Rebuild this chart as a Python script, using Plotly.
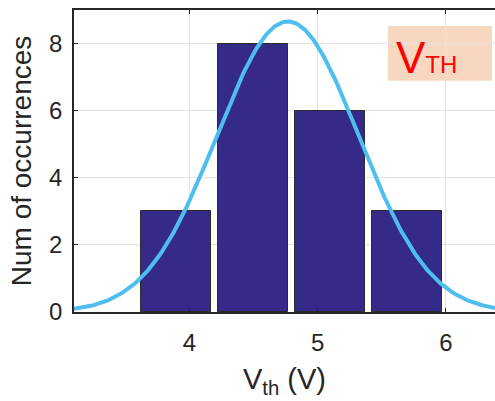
import numpy as np
import plotly.graph_objects as go

# Histogram of threshold voltages
bin_centers = [3.898, 4.498, 5.098, 5.698]
counts = [3, 8, 6, 3]
bar_width = 0.545

# Normal fit parameters for the overlaid density curve
fit_mean = 4.767
fit_sigma = 0.553

x_ticks = [4, 5, 6]
y_ticks = [0, 2, 4, 6, 8]
x_range = [3.101, 6.382]
y_range = [0, 9]

bin_step = bin_centers[1] - bin_centers[0]
n_total = sum(counts)
xs = np.linspace(x_range[0], x_range[1], 300)
ys = n_total * bin_step / (fit_sigma * np.sqrt(2 * np.pi)) * np.exp(-0.5 * ((xs - fit_mean) / fit_sigma) ** 2)

FONT = "Liberation Sans, Arial, sans-serif"
INK = "#262626"

fig = go.Figure()
fig.add_trace(go.Bar(
    x=bin_centers, y=counts, width=bar_width,
    marker=dict(color="#352A87", line=dict(color="#2b2b2b", width=1)),
    showlegend=False,
))
fig.add_trace(go.Scatter(
    x=xs, y=ys, mode="lines",
    line=dict(color="#4DBEEE", width=4),
    showlegend=False,
))

W, H = 495, 401
ml, mr, mt, mb = 74, 0, 10, 89
pw, ph = W - ml - mr, H - mt - mb


def px_x(p):
    return (p - ml) / pw


def px_y(p):
    return (H - mb - p) / ph


fig.add_shape(
    type="rect", xref="paper", yref="paper",
    x0=px_x(388), x1=px_x(492), y0=px_y(80.7), y1=px_y(26),
    fillcolor="#F7D7C0", line=dict(width=0), layer="below",
)
fig.add_annotation(
    xref="paper", yref="paper", x=px_x(394), y=px_y(57),
    xanchor="left", yanchor="middle", showarrow=False,
    text="V<span style='font-size:24px'>TH</span>",
    font=dict(family=FONT, size=44, color="#FF0000"),
)

fig.update_layout(
    width=W, height=H,
    margin=dict(l=ml, r=mr, t=mt, b=mb, pad=0),
    paper_bgcolor="white", plot_bgcolor="white",
    bargap=0,
    font=dict(family=FONT, color=INK),
    xaxis=dict(
        range=x_range, tickvals=x_ticks, ticks="inside", ticklen=4,
        tickcolor=INK, showline=True, linecolor=INK, linewidth=1.5,
        mirror="ticks", showgrid=True, gridcolor="#E3E3E3", zeroline=False,
        tickfont=dict(size=24, color=INK), ticklabelstandoff=8,
        title=dict(text="V<sub>th</sub> (V)", font=dict(size=29, color=INK), standoff=14),
    ),
    yaxis=dict(
        range=y_range, tickvals=y_ticks, ticks="inside", ticklen=4,
        tickcolor=INK, showline=True, linecolor=INK, linewidth=1.5,
        showgrid=True, gridcolor="#E3E3E3", zeroline=False,
        tickfont=dict(size=24, color=INK), ticklabelstandoff=5,
        title=dict(text="Num of occurrences", font=dict(size=28, color=INK), standoff=9),
    ),
)

fig.write_html("out.html")
